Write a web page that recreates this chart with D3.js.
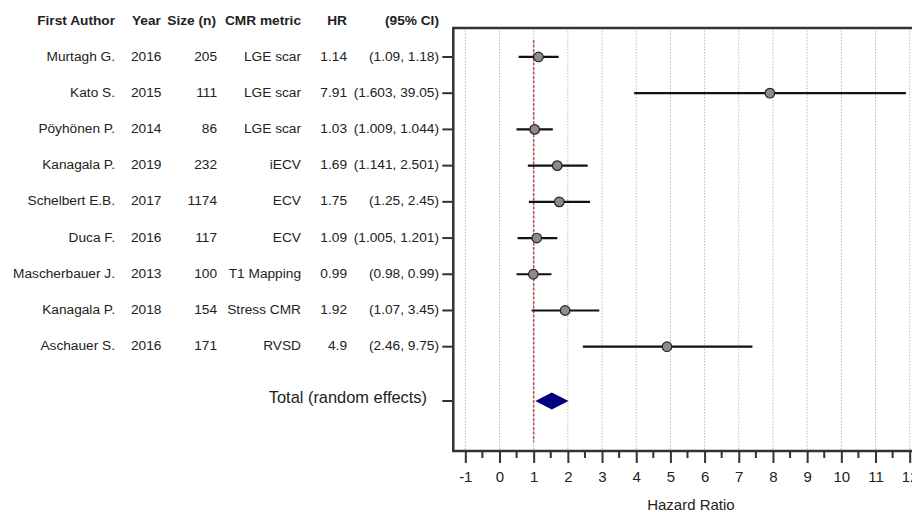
<!doctype html>
<html lang="en">
<head>
    <meta charset="UTF-8">
    <title>forest plot</title>
    <script src="https://d3js.org/d3.v7.min.js"></script>
    <style>
        body { margin: 0; background: #fff; }
        text { font-family: "Liberation Sans", Arial, sans-serif; fill: #222; }
        .head { font-weight: bold; font-size: 13.7px; }
        .cell { font-size: 13.7px; }
        .grid line { stroke: #bbb; stroke-dasharray: 1.5,1.5; }
    </style>
</head>
<body>
<div class="canvas"></div>
</body>

<script>
  // study rows
  const authors = ['Murtagh G.', 'Kato S.', 'Pöyhönen P.', 'Kanagala P.', 'Schelbert E.B.', 'Duca F.', 'Mascherbauer J.', 'Kanagala P.', 'Aschauer S.'];
  const years = ['2016', '2015', '2014', '2019', '2017', '2016', '2013', '2018', '2016'];
  const sizes = ['205', '111', '86', '232', '1174', '117', '100', '154', '171'];
  const metrics = ['LGE scar', 'LGE scar', 'LGE scar', 'iECV', 'ECV', 'ECV', 'T1 Mapping', 'Stress CMR', 'RVSD'];
  const hrText = ['1.14', '7.91', '1.03', '1.69', '1.75', '1.09', '0.99', '1.92', '4.9'];
  const ciText = ['(1.09, 1.18)', '(1.603, 39.05)', '(1.009, 1.044)', '(1.141, 2.501)', '(1.25, 2.45)', '(1.005, 1.201)', '(0.98, 0.99)', '(1.07, 3.45)', '(2.46, 9.75)'];
  const hr = [1.14, 7.91, 1.03, 1.69, 1.75, 1.09, 0.99, 1.92, 4.9];
  // whisker ends as drawn in the plot
  const lowDrawn = [0.56, 3.94, 0.50, 0.83, 0.86, 0.53, 0.50, 0.94, 2.44];
  const highDrawn = [1.73, 11.89, 1.56, 2.58, 2.65, 1.69, 1.52, 2.92, 7.40];
  // pooled estimate
  const totalLabel = 'Total (random effects)';
  const totalEst = [1.05, 1.53, 2.02];
  const xTicks = [-1, 0, 1, 2, 3, 4, 5, 6, 7, 8, 9, 10, 11, 12];

  const width = 912, height = 512;

  const svg = d3.select('.canvas')
    .append('svg')
    .attr('width', width)
    .attr('height', height)

  const x = d3.scaleLinear().domain([-1, 12]).range([465.3, 909.7]);
  const y = d3.scaleLinear().domain([-0.8, 10.88]).range([28, 451]);
  const plotLeft = 453.3, plotTop = y(-0.8), plotBottom = y(10.88);
  const totalRow = 9.5;

  // gridlines
  svg.append('g').attr('class', 'grid')
    .selectAll('line')
    .data(xTicks)
    .join('line')
    .attr('x1', d => x(d)).attr('x2', d => x(d))
    .attr('y1', plotTop).attr('y2', plotBottom)

  // reference line at HR = 1
  svg.append('line')
    .attr('x1', x(1)).attr('x2', x(1))
    .attr('y1', y(-0.47)).attr('y2', y(10.63))
    .attr('stroke', '#b9534f')
    .attr('stroke-width', 1.5)
    .attr('stroke-dasharray', '3,1.5')

  // whiskers
  svg.append('g')
    .selectAll('line')
    .data(hr)
    .join('line')
    .attr('x1', (d, i) => x(lowDrawn[i]))
    .attr('x2', (d, i) => x(highDrawn[i]))
    .attr('y1', (d, i) => y(i)).attr('y2', (d, i) => y(i))
    .attr('stroke', '#111')
    .attr('stroke-width', 2.2)

  svg.append('g')
    .selectAll('circle')
    .data(hr)
    .join('circle')
    .attr('cx', d => x(d))
    .attr('cy', (d, i) => y(i))
    .attr('r', 4.8)
    .attr('fill', '#8c8c8c')
    .attr('stroke', '#222')
    .attr('stroke-width', 1.2)

  // diamond
  const [tl, tm, th] = totalEst;
  const ty = y(totalRow);
  svg.append('path')
    .attr('d', `M${x(tl)},${ty} L${x(tm)},${ty - 8.5} L${x(th)},${ty} L${x(tm)},${ty + 8.5} Z`)
    .attr('fill', '#000080')

  // x axis
  const xAxis = svg.append('g')
    .attr('transform', `translate(0,${plotBottom})`)
    .call(d3.axisBottom(x).tickValues(xTicks).tickSize(12).tickPadding(8).tickFormat(d => String(d)))
  xAxis.select('.domain').remove()
  xAxis.selectAll('line').attr('stroke', '#333').attr('stroke-width', 2)
  xAxis.selectAll('text').attr('font-size', '15px').attr('fill', '#222')
    .style('font-family', '"Liberation Sans", Arial, sans-serif')

  // minor ticks
  svg.append('g')
    .selectAll('line')
    .data(d3.range(-0.5, 12.5, 1))
    .join('line')
    .attr('x1', d => x(d)).attr('x2', d => x(d))
    .attr('y1', plotBottom).attr('y2', plotBottom + 7)
    .attr('stroke', '#333').attr('stroke-width', 2)

  // frame: left, bottom, top
  svg.append('path')
    .attr('d', `M${width},${plotTop} L${plotLeft},${plotTop} L${plotLeft},${plotBottom} L${width},${plotBottom}`)
    .attr('fill', 'none')
    .attr('stroke', '#333')
    .attr('stroke-width', 2.5)

  // y ticks
  const rowIdx = d3.range(hr.length).concat([totalRow]);
  svg.append('g')
    .selectAll('line')
    .data(rowIdx)
    .join('line')
    .attr('x1', plotLeft - 11).attr('x2', plotLeft)
    .attr('y1', d => y(d)).attr('y2', d => y(d))
    .attr('stroke', '#333').attr('stroke-width', 2)

  svg.append('text')
    .attr('x', x(5.6)).attr('y', 506)
    .attr('text-anchor', 'middle')
    .attr('dominant-baseline', 'middle')
    .attr('font-size', '15px')
    .text('Hazard Ratio')

  // table columns
  const columns = [
    { head: 'First Author', vals: authors, x: 115, anchor: 'end', hx: 115, hanchor: 'end' },
    { head: 'Year', vals: years, x: 131, anchor: 'start', hx: 132, hanchor: 'start' },
    { head: 'Size (n)', vals: sizes, x: 217, anchor: 'end', hx: 216, hanchor: 'end' },
    { head: 'CMR metric', vals: metrics, x: 301, anchor: 'end', hx: 301, hanchor: 'end' },
    { head: 'HR', vals: hrText, x: 347, anchor: 'end', hx: 347, hanchor: 'end' },
    { head: '(95% CI)', vals: ciText, x: 439, anchor: 'end', hx: 439, hanchor: 'end' }
  ];

  columns.forEach(c => {
    svg.append('text')
      .attr('class', 'head')
      .attr('x', c.hx).attr('y', 21)
      .attr('text-anchor', c.hanchor)
      .attr('dominant-baseline', 'middle')
      .text(c.head)

    svg.append('g')
      .selectAll('text')
      .data(c.vals)
      .join('text')
      .attr('class', 'cell')
      .attr('x', c.x)
      .attr('y', (d, i) => y(i))
      .attr('text-anchor', c.anchor)
      .attr('dominant-baseline', 'middle')
      .text(d => d)
  })

  svg.append('text')
    .attr('x', 427).attr('y', ty - 2.5)
    .attr('text-anchor', 'end')
    .attr('dominant-baseline', 'middle')
    .attr('font-size', '16.4px')
    .text(totalLabel)
</script>
</html>
